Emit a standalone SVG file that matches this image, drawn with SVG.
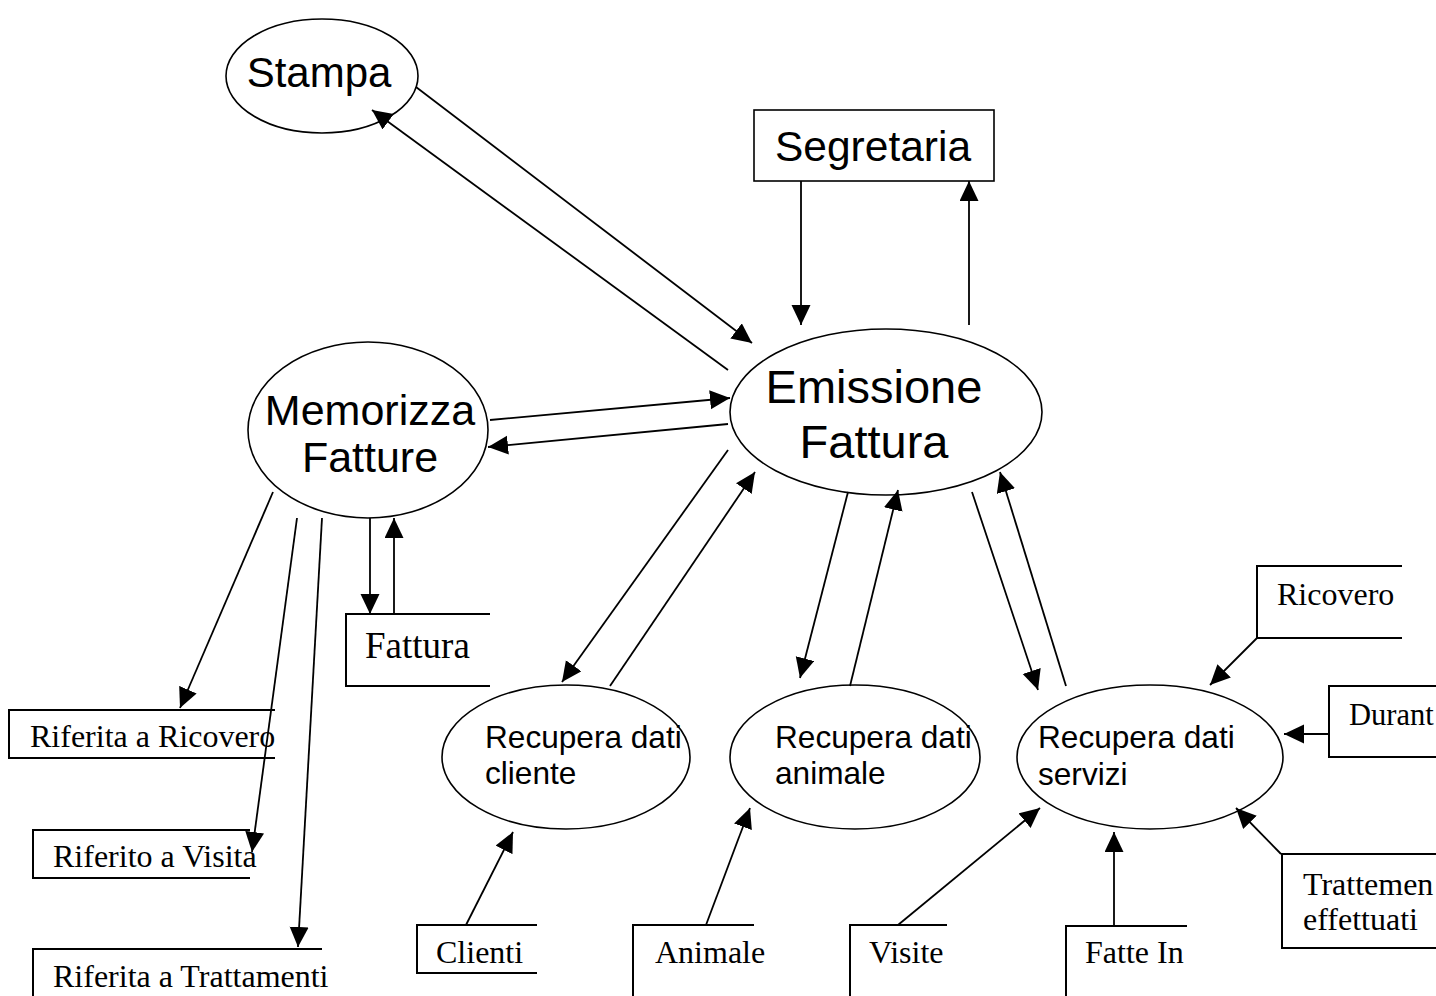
<svg xmlns="http://www.w3.org/2000/svg" width="1436" height="996" viewBox="0 0 1436 996">
<style>
.sh{fill:#fff;stroke:#000;stroke-width:1.6}
.st{fill:none;stroke:#000;stroke-width:2}
.c{fill:none;stroke:#000;stroke-width:1.8;marker-end:url(#ah)}
.h{font-family:"Liberation Sans",Arial,sans-serif;fill:#000}
.t{font-family:"Liberation Serif","Times New Roman",serif;fill:#000}
</style>
<defs>
<marker id="ah" markerUnits="userSpaceOnUse" markerWidth="21" markerHeight="20" refX="20" refY="9.5" orient="auto">
<path d="M0,0 L20,9.5 L0,19 z" fill="#000"/>
</marker>
</defs>
<rect width="1436" height="996" fill="#fff"/>
<g id="stampa"><ellipse class="sh" cx="322" cy="76" rx="96" ry="57"/><text class="h" x="319" y="87" font-size="42" text-anchor="middle">Stampa</text></g>
<g id="segretaria"><rect class="sh" x="754" y="110" width="240" height="71"/><text class="h" x="775" y="161" font-size="42.5">Segretaria</text></g>
<g id="emissione"><ellipse class="sh" cx="886" cy="412" rx="156" ry="83"/><text class="h" x="874" y="403" font-size="47" text-anchor="middle">Emissione</text><text class="h" x="874" y="458" font-size="47" text-anchor="middle">Fattura</text></g>
<g id="memorizza"><ellipse class="sh" cx="368" cy="430" rx="120" ry="88"/><text class="h" x="370" y="425" font-size="43" text-anchor="middle">Memorizza</text><text class="h" x="370" y="472" font-size="43" text-anchor="middle">Fatture</text></g>
<g id="rcliente"><ellipse class="sh" cx="566" cy="757" rx="124" ry="72"/><text class="h" x="485" y="748" font-size="31.6">Recupera dati</text><text class="h" x="485" y="784" font-size="31.6">cliente</text></g>
<g id="ranimale"><ellipse class="sh" cx="855" cy="757" rx="125" ry="72"/><text class="h" x="775" y="748" font-size="31.6">Recupera dati</text><text class="h" x="775" y="784" font-size="31.6">animale</text></g>
<g id="rservizi"><ellipse class="sh" cx="1150" cy="757" rx="133" ry="72"/><text class="h" x="1038" y="748" font-size="31.6">Recupera dati</text><text class="h" x="1038" y="785" font-size="31.6">servizi</text></g>
<g id="fattura"><path class="st" d="M490,614 H346 V686 H490"/><text class="t" x="365" y="658" font-size="37">Fattura</text></g>
<g id="rifricovero"><path class="st" d="M275,710 H9 V758 H275"/><text class="t" x="30" y="747" font-size="32">Riferita a Ricovero</text></g>
<g id="rifvisita"><path class="st" d="M250,830 H33 V878 H250"/><text class="t" x="53" y="867" font-size="32">Riferito a Visita</text></g>
<g id="riftratt"><path class="st" d="M322,949 H33 V996"/><text class="t" x="53" y="987" font-size="32">Riferita a Trattamenti</text></g>
<g id="clienti"><path class="st" d="M537,925 H417 V973 H537"/><text class="t" x="436" y="963" font-size="32">Clienti</text></g>
<g id="animale"><path class="st" d="M754,925 H633 V996"/><text class="t" x="655" y="963" font-size="32">Animale</text></g>
<g id="visite"><path class="st" d="M947,925 H850 V996"/><text class="t" x="869" y="963" font-size="32">Visite</text></g>
<g id="fattein"><path class="st" d="M1187,926 H1066 V996"/><text class="t" x="1085" y="963" font-size="32">Fatte In</text></g>
<g id="ricovero"><path class="st" d="M1402,566 H1257 V638 H1402"/><text class="t" x="1277" y="605" font-size="32">Ricovero</text></g>
<g id="durante"><path class="st" d="M1436,686 H1329 V757 H1436"/><text class="t" x="1349" y="725" font-size="30.5">Durant</text></g>
<g id="trattementi"><path class="st" d="M1436,854 H1282 V948 H1436"/><text class="t" x="1303" y="895" font-size="32">Trattemen</text><text class="t" x="1303" y="930" font-size="32">effettuati</text></g>
<g id="connectors">
<line class="c" x1="416" y1="87" x2="752" y2="343"/>
<line class="c" x1="728" y1="370" x2="372" y2="110"/>
<line class="c" x1="801" y1="181" x2="801" y2="325"/>
<line class="c" x1="969" y1="325" x2="969" y2="181"/>
<line class="c" x1="490" y1="420" x2="730" y2="398"/>
<line class="c" x1="728" y1="424" x2="488" y2="447"/>
<line class="c" x1="728" y1="450" x2="562" y2="682"/>
<line class="c" x1="610" y1="686" x2="755" y2="472"/>
<line class="c" x1="848" y1="492" x2="800" y2="678"/>
<line class="c" x1="850" y1="686" x2="898" y2="490"/>
<line class="c" x1="972" y1="492" x2="1038" y2="690"/>
<line class="c" x1="1066" y1="686" x2="1000" y2="472"/>
<line class="c" x1="370" y1="518" x2="370" y2="614"/>
<line class="c" x1="394" y1="614" x2="394" y2="518"/>
<line class="c" x1="273" y1="492" x2="180" y2="708"/>
<line class="c" x1="297" y1="518" x2="252" y2="852"/>
<line class="c" x1="322" y1="518" x2="298" y2="947"/>
<line class="c" x1="466" y1="925" x2="513" y2="832"/>
<line class="c" x1="706" y1="925" x2="750" y2="808"/>
<line class="c" x1="898" y1="925" x2="1040" y2="808"/>
<line class="c" x1="1114" y1="926" x2="1114" y2="832"/>
<line class="c" x1="1281" y1="854" x2="1236" y2="808"/>
<line class="c" x1="1329" y1="734" x2="1284" y2="734"/>
<line class="c" x1="1257" y1="638" x2="1210" y2="685"/>
</g>
</svg>
